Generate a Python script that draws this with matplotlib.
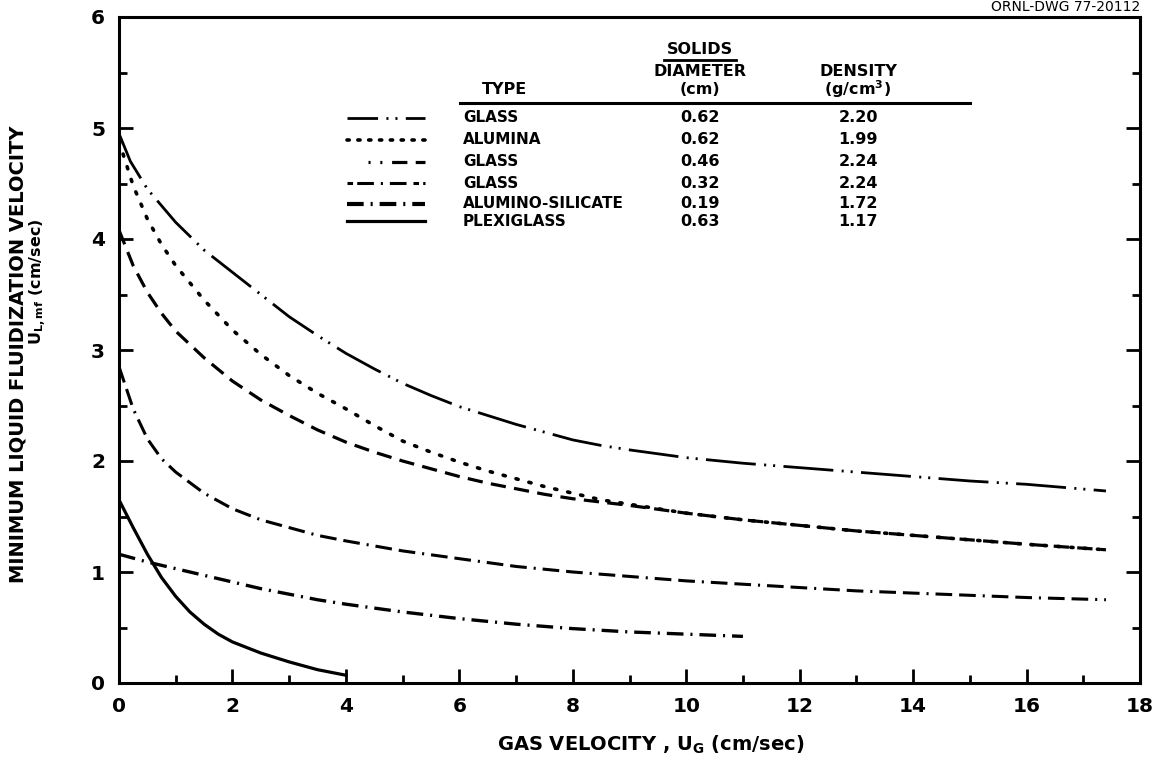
import matplotlib
matplotlib.use("Agg")
import matplotlib.pyplot as plt
from matplotlib.lines import Line2D
from matplotlib.ticker import MultipleLocator

plt.rcParams['font.family'] = ['DejaVu Sans']
plt.rcParams['font.weight'] = 'bold'
plt.rcParams['lines.scale_dashes'] = False

# ---- data: minimum liquid fluidization velocity vs gas velocity ----
ug_glass62 = [0, 0.2, 0.5, 1.0, 1.5, 2.0, 2.5, 3.0, 3.5, 4.0, 4.5, 5.0, 5.5, 6.0, 6.5,
              7.0, 7.5, 8.0, 8.5, 9.0, 10.0, 11.0, 12.0, 13.0, 14.0, 15.0, 16.0, 17.4]
ul_glass62 = [4.95, 4.70, 4.45, 4.15, 3.90, 3.70, 3.50, 3.30, 3.13, 2.97, 2.83, 2.70, 2.59, 2.49, 2.41,
              2.33, 2.26, 2.19, 2.14, 2.10, 2.03, 1.98, 1.94, 1.90, 1.86, 1.82, 1.79, 1.73]

ug_alumina = [0, 0.25, 0.5, 0.75, 1.0, 1.5, 2.0, 2.5, 3.0, 3.5, 4.0, 4.5, 5.0, 5.5, 6.0, 6.5,
              7.0, 7.5, 8.0, 8.5, 9.0, 10.0, 11.0, 12.0, 13.0, 14.0, 15.0, 16.0, 17.4]
ul_alumina = [4.88, 4.48, 4.18, 3.95, 3.76, 3.45, 3.18, 2.96, 2.77, 2.61, 2.47, 2.32, 2.18, 2.08, 1.99, 1.91,
              1.84, 1.77, 1.71, 1.65, 1.61, 1.53, 1.47, 1.42, 1.37, 1.33, 1.29, 1.25, 1.20]

ug_glass46 = [0, 0.25, 0.5, 0.75, 1.0, 1.5, 2.0, 2.5, 3.0, 3.5, 4.0, 4.5, 5.0, 5.5, 6.0, 6.5,
              7.0, 7.5, 8.0, 8.5, 9.0, 10.0, 11.0, 12.0, 13.0, 14.0, 15.0, 16.0, 17.4]
ul_glass46 = [4.08, 3.76, 3.52, 3.33, 3.17, 2.93, 2.72, 2.55, 2.41, 2.28, 2.17, 2.08, 2.00, 1.93, 1.86, 1.80,
              1.75, 1.70, 1.66, 1.63, 1.60, 1.53, 1.47, 1.42, 1.37, 1.33, 1.29, 1.25, 1.20]

ug_glass32 = [0, 0.25, 0.5, 0.75, 1.0, 1.5, 2.0, 2.5, 3.0, 3.5, 4.0, 5.0, 6.0, 7.0, 8.0, 9.0,
              10.0, 11.0, 12.0, 13.0, 14.0, 15.0, 16.0, 17.4]
ul_glass32 = [2.85, 2.47, 2.20, 2.02, 1.90, 1.71, 1.57, 1.47, 1.40, 1.33, 1.28, 1.19, 1.12, 1.05, 1.00, 0.96,
              0.92, 0.89, 0.86, 0.83, 0.81, 0.79, 0.77, 0.75]

ug_alsil = [0, 0.5, 1.0, 1.5, 2.0, 2.5, 3.0, 3.5, 4.0, 5.0, 6.0, 7.0, 8.0, 9.0, 10.0, 11.0]
ul_alsil = [1.16, 1.09, 1.03, 0.97, 0.91, 0.85, 0.80, 0.75, 0.71, 0.64, 0.58, 0.53, 0.49, 0.46, 0.44, 0.42]

ug_plexi = [0, 0.25, 0.5, 0.75, 1.0, 1.25, 1.5, 1.75, 2.0, 2.5, 3.0, 3.5, 4.0]
ul_plexi = [1.65, 1.40, 1.16, 0.95, 0.78, 0.64, 0.53, 0.44, 0.37, 0.27, 0.19, 0.12, 0.07]

solid_types = ["GLASS", "ALUMINA", "GLASS", "GLASS", "ALUMINO-SILICATE", "PLEXIGLASS"]
diameters = ["0.62", "0.62", "0.46", "0.32", "0.19", "0.63"]
densities = ["2.20", "1.99", "2.24", "2.24", "1.72", "1.17"]

x_ticks = [0, 2, 4, 6, 8, 10, 12, 14, 16, 18]
y_ticks = [0, 1, 2, 3, 4, 5, 6]

# ---- line styles (curve style, short legend-sample style) ----
styles = [
    dict(linestyle=(0, (36, 6, 1.5, 5, 1.5, 6)), linewidth=2.0),
    dict(linestyle=(0, (1.6, 8)), linewidth=2.6, dash_capstyle='round'),
    dict(linestyle=(0, (11, 6)), linewidth=2.3),
    dict(linestyle=(0, (12, 5, 12, 5, 1.5, 5)), linewidth=2.2),
    dict(linestyle=(0, (12, 5, 1.5, 5)), linewidth=2.4),
    dict(linestyle='-', linewidth=2.3),
]
sample_styles = [
    dict(linestyle=(14, (36, 6, 1.5, 5, 1.5, 6)), linewidth=2.0),
    dict(linestyle=(0, (1.6, 6.2)), linewidth=2.6, dash_capstyle='round'),
    dict(linestyle=(0, (1.5, 7, 1.5, 7, 11, 6, 11, 60)), linewidth=2.3),
    dict(linestyle=(0, (4, 3, 12, 5, 1.5, 5, 12, 5)), linewidth=2.2),
    dict(linestyle=(0, (12, 5, 1.5, 5)), linewidth=3.0),
    dict(linestyle='-', linewidth=2.3),
]
series = [(ug_glass62, ul_glass62), (ug_alumina, ul_alumina), (ug_glass46, ul_glass46),
          (ug_glass32, ul_glass32), (ug_alsil, ul_alsil), (ug_plexi, ul_plexi)]

W, H = 1152, 761
fig = plt.figure(figsize=(W / 100, H / 100), dpi=100)
L, R, B, T = 119, 1140, 683, 17
ax = fig.add_axes([L / W, 1 - B / H, (R - L) / W, (B - T) / H])

for (xs, ys), st in zip(series, styles):
    ax.plot(xs, ys, color='black', **st)

ax.set_xlim(0, 18)
ax.set_ylim(0, 6)
ax.set_xticks(x_ticks)
ax.set_yticks(y_ticks)
ax.xaxis.set_minor_locator(MultipleLocator(1))
ax.yaxis.set_minor_locator(MultipleLocator(0.5))
ax.tick_params(which='both', direction='in', right=True, top=False, width=2.0,
               labelsize=14.5, pad=10)
ax.tick_params(which='major', length=10)
ax.tick_params(which='minor', length=6)
ax.tick_params(axis='x', pad=10)
for s in ax.spines.values():
    s.set_linewidth(2.2)


def fx(px):
    return px / W


def fy(py):
    return 1 - py / H


# axis titles
fig.text(fx(651), fy(745), r"GAS VELOCITY , U$_\mathbf{G}$ (cm/sec)", ha='center', va='center',
         fontsize=14, fontweight='bold')
fig.text(fx(18), fy(354), "MINIMUM LIQUID FLUIDIZATION VELOCITY", rotation=90,
         ha='center', va='center', fontsize=14, fontweight='bold')
fig.text(fx(38), fy(282), r"U$_\mathbf{L,mf}$ (cm/sec)", rotation=90,
         ha='center', va='center', fontsize=11.5, fontweight='bold')

# drawing number at the top right
fig.text(fx(1140), fy(7), "ORNL-DWG 77-20112", ha='right', va='center',
         fontsize=10, fontweight='normal')

# ---- legend table ----
DCOL, RCOL = 700, 858
fig.text(fx(DCOL), fy(50), "SOLIDS", ha='center', va='center', fontsize=11.5, fontweight='bold')
fig.add_artist(Line2D([fx(664), fx(736)], [fy(60), fy(60)], color='black', linewidth=2.0))
fig.text(fx(DCOL), fy(72), "DIAMETER", ha='center', va='center', fontsize=11.5, fontweight='bold')
fig.text(fx(DCOL), fy(89), "(cm)", ha='center', va='center', fontsize=11.5, fontweight='bold')
fig.text(fx(RCOL), fy(72), "DENSITY", ha='center', va='center', fontsize=11.5, fontweight='bold')
fig.text(fx(RCOL), fy(89), r"(g/cm$^\mathbf{3}$)", ha='center', va='center', fontsize=11.5, fontweight='bold')
fig.text(fx(505), fy(89), "TYPE", ha='center', va='center', fontsize=11.5, fontweight='bold')
fig.add_artist(Line2D([fx(460), fx(970)], [fy(103), fy(103)], color='black', linewidth=2.2))

row_y = [118, 140, 162, 183, 204, 221]
sample_start = [347, 347, 368, 347, 347, 347]
for ry, x0, st, name, d, rho in zip(row_y, sample_start, sample_styles, solid_types, diameters, densities):
    fig.add_artist(Line2D([fx(x0), fx(425)], [fy(ry), fy(ry)], color='black', **st))
    fig.text(fx(463), fy(ry), name, ha='left', va='center', fontsize=11, fontweight='bold')
    fig.text(fx(DCOL), fy(ry), d, ha='center', va='center', fontsize=11.5, fontweight='bold')
    fig.text(fx(RCOL), fy(ry), rho, ha='center', va='center', fontsize=11.5, fontweight='bold')

fig.savefig("out.png", dpi=100)
